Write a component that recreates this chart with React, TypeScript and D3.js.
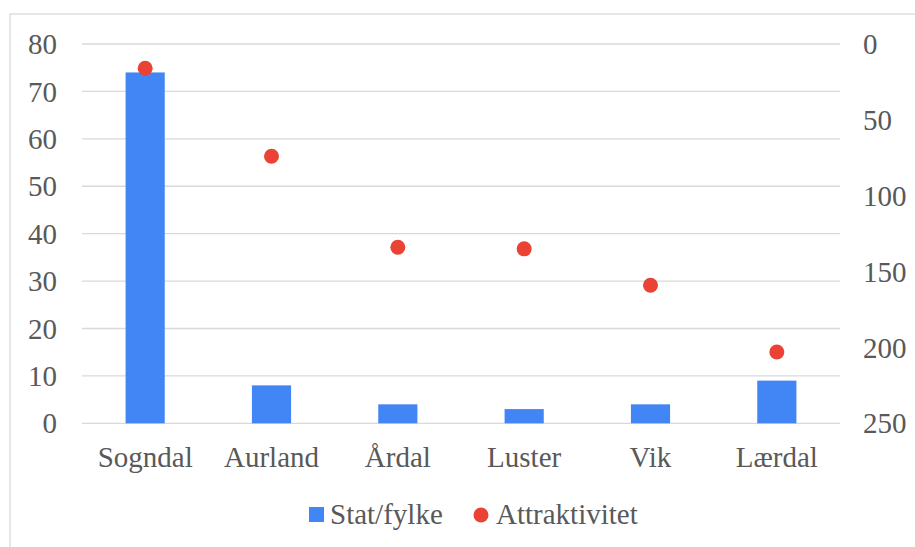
import React from "react";
import * as d3 from "d3";

const categories = ["Sogndal", "Aurland", "Årdal", "Luster", "Vik", "Lærdal"];
const statFylke = [74, 8, 4, 3, 4, 9];
const attraktivitet = [16, 74, 134, 135, 159, 203];
const leftTicks = [0, 10, 20, 30, 40, 50, 60, 70, 80];
const rightTicks = [0, 50, 100, 150, 200, 250];

const W = 915;
const H = 547;
const plot = { left: 82, right: 840, top: 44, bottom: 423.3 };
const TEXT = "#595959";
const txt: React.CSSProperties = { fontFamily: '"Liberation Serif", "Times New Roman", Tinos, serif', fontSize: "29px" };

export default function App() {
  const x = d3.scaleBand<string>().domain(categories).range([plot.left, plot.right]).paddingInner(0.69).paddingOuter(0.345);
  const yL = d3.scaleLinear().domain([0, 80]).range([plot.bottom, plot.top]);
  const yR = d3.scaleLinear().domain([0, 250]).range([plot.top, plot.bottom]);
  const cx = (c: string) => (x(c) as number) + x.bandwidth() / 2;

  return (
    <svg width={W} height={H} style={{ position: "absolute", left: 0, top: 0, display: "block", ...txt }}>
      <rect x={0} y={0} width={W} height={H} fill="#fff" />
      <rect x={10} y={14} width={W + 10} height={H + 10} fill="#fff" stroke="#d9d9d9" strokeWidth={1.3} />
      {leftTicks.map((t) => (
        <line key={"g" + t} x1={plot.left} x2={plot.right} y1={yL(t)} y2={yL(t)} stroke="#d9d9d9" strokeWidth={1.3} />
      ))}
      {leftTicks.map((t) => (
        <text key={"l" + t} x={57} y={yL(t)} dy="0.35em" textAnchor="end" style={txt} fill={TEXT}>
          {t}
        </text>
      ))}
      {rightTicks.map((t) => (
        <text key={"r" + t} x={863} y={yR(t)} dy="0.35em" textAnchor="start" style={txt} fill={TEXT}>
          {t}
        </text>
      ))}
      {categories.map((c, i) => (
        <rect key={"b" + c} x={x(c)} y={yL(statFylke[i])} width={x.bandwidth()} height={yL(0) - yL(statFylke[i])} fill="#4285F4" />
      ))}
      {categories.map((c, i) => (
        <circle key={"d" + c} cx={cx(c)} cy={yR(attraktivitet[i])} r={7.5} fill="#EA4335" />
      ))}
      {categories.map((c) => (
        <text key={"c" + c} x={cx(c)} y={467} textAnchor="middle" style={txt} fill={TEXT}>
          {c}
        </text>
      ))}
      <rect x={309} y={507} width={15} height={15} fill="#4285F4" />
      <text x={330} y={524} style={txt} fill={TEXT}>Stat/fylke</text>
      <circle cx={481} cy={515} r={7.5} fill="#EA4335" />
      <text x={496} y={524} style={txt} fill={TEXT}>Attraktivitet</text>
    </svg>
  );
}
